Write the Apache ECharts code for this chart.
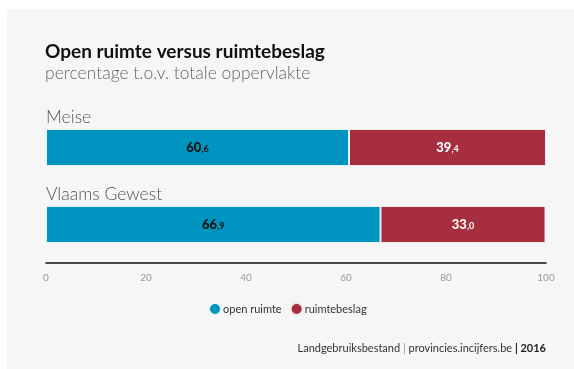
<!DOCTYPE html>
<html>
<head>
<meta charset="utf-8">
<script src="https://cdn.jsdelivr.net/npm/echarts@6/dist/echarts.min.js"></script>
<style>
  html, body { margin: 0; padding: 0; background: #ffffff; }
  #chart { width: 574px; height: 369px; }
</style>
</head>
<body>
<div id="chart"></div>
<script>
// Regions and the share of their surface (percent)
const regions = ['Meise', 'Vlaams Gewest'];
const openRuimte = [60.6, 66.9];
const ruimtebeslag = [39.4, 33.0];
const seriesNames = ['open ruimte', 'ruimtebeslag'];
const axisTicks = [0, 20, 40, 60, 80, 100];

const BLUE = '#0095c0';
const RED = '#a72e3e';
const FONT = 'Lato, "Noto Sans", sans-serif';

// "60,6" with the decimal part set smaller
function splitLabel(v) {
  const parts = v.toFixed(1).split('.');
  return '{i|' + parts[0] + '}{d|,' + parts[1] + '}';
}

function barLabel(color) {
  return {
    show: true,
    position: 'inside',
    formatter: p => splitLabel(p.value),
    rich: {
      i: { fontFamily: FONT, fontWeight: 900, fontSize: 13, color: color },
      d: { fontFamily: FONT, fontWeight: 'bold', fontSize: 9, color: color, padding: [4, 0, 0, 0] }
    }
  };
}

const chart = echarts.init(document.getElementById('chart'), null, { renderer: 'canvas' });

chart.setOption({
  backgroundColor: '#ffffff',
  animation: false,
  graphic: [
    { type: 'rect', z: -10, shape: { x: 7, y: 9, width: 574, height: 369 }, style: { fill: '#f6f6f6' } }
  ],
  title: [
    {
      text: 'Open ruimte versus ruimtebeslag',
      subtext: 'percentage t.o.v. totale oppervlakte',
      left: 40, top: 37,
      itemGap: 3,
      textStyle: { fontFamily: FONT, fontWeight: 'bold', fontSize: 19, color: '#111' },
      subtextStyle: { fontFamily: FONT, fontWeight: 300, fontSize: 17.5, color: '#666' }
    },
    {
      text: '{s|Landgebruiksbestand }{g||}{s| provincies.incijfers.be }{b|| 2016}',
      right: 23, top: 338,
      textStyle: {
        fontWeight: 'normal',
        rich: {
          s: { fontFamily: FONT, fontSize: 11, fontWeight: 'normal', color: '#333' },
          g: { fontFamily: FONT, fontSize: 11, fontWeight: 'normal', color: '#999' },
          b: { fontFamily: FONT, fontSize: 11, fontWeight: 'bold', color: '#222' }
        }
      }
    }
  ],
  legend: {
    data: seriesNames,
    left: 203, top: 297,
    icon: 'circle',
    itemWidth: 12, itemHeight: 12, itemGap: 8,
    textStyle: { fontFamily: FONT, fontSize: 11, color: '#333', padding: [0, 0, 0, -3] }
  },
  grid: { left: 46, right: 28, top: 109, bottom: 106, containLabel: false },
  xAxis: {
    type: 'value', min: 0, max: 100, interval: 20,
    axisLine: { show: true, lineStyle: { color: '#111', width: 1.5 } },
    axisTick: { show: false },
    splitLine: { show: false },
    axisLabel: {
      margin: 10, fontFamily: FONT, fontSize: 10, color: '#999',
      formatter: v => axisTicks.includes(v) ? String(v) : ''
    }
  },
  yAxis: {
    type: 'category', inverse: true, data: regions,
    axisLine: { show: false }, axisTick: { show: false },
    axisLabel: {
      inside: true, margin: 0, align: 'left', verticalAlign: 'bottom',
      padding: [0, 0, 21, 0],
      fontFamily: FONT, fontWeight: 300, fontSize: 17.5, color: '#555'
    }
  },
  series: [
    {
      name: seriesNames[0], type: 'bar', stack: 'total', barWidth: 37,
      data: openRuimte,
      itemStyle: { color: BLUE, borderColor: '#e8f4f8', borderWidth: 1 },
      label: barLabel('#111')
    },
    {
      name: seriesNames[1], type: 'bar', stack: 'total', barWidth: 37,
      data: ruimtebeslag,
      itemStyle: { color: RED, borderColor: '#f3e6e8', borderWidth: 1 },
      label: barLabel('#ffffff')
    }
  ]
});
</script>
</body>
</html>
